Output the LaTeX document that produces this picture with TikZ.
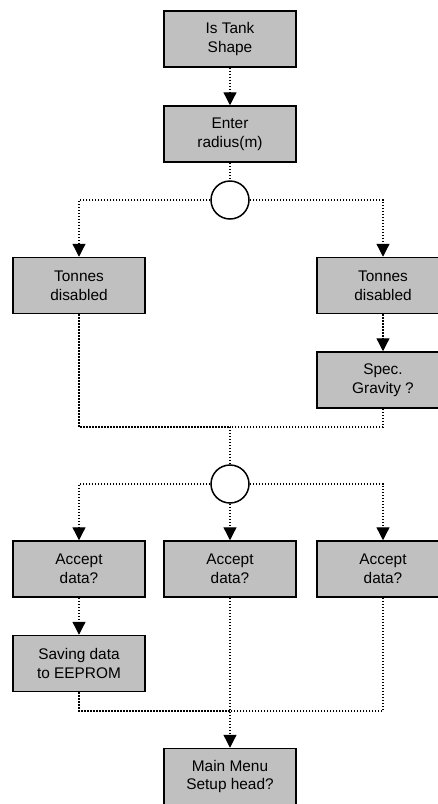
\documentclass[tikz,border=0pt]{standalone}
\usepackage{fontspec}
\setmainfont{Liberation Sans}
\usetikzlibrary{arrows.meta}
\definecolor{boxgray}{RGB}{192,192,192}
\tikzset{
  stepbox/.style={draw=black, line width=1.5pt, fill=boxgray, minimum width=132pt, minimum height=56pt, inner sep=0pt, align=center, font=\fontsize{15.4}{18.8}\selectfont},
  junction/.style={draw=black, line width=1.5pt, fill=white, circle, minimum size=38pt, inner sep=0pt},
  link/.style={line width=1.3pt, dash pattern=on 1.3pt off 1.7pt},
  flow/.style={link, -{Triangle[width=13pt,length=13pt]}}
}
\begin{document}
\begin{tikzpicture}[x=1pt,y=-1pt]
\useasboundingbox (0,0) rectangle (438,804);
\node[stepbox] (s1) at (230,39) {Is Tank\\Shape};
\node[stepbox] (s2) at (230,134) {Enter\\radius(m)};
\node[junction] (c1) at (230,200) {};
\node[stepbox] (t1) at (79,285.5) {Tonnes\\disabled};
\node[stepbox] (t2) at (383,285.5) {Tonnes\\disabled};
\node[stepbox] (sg) at (383,380) {Spec.\\Gravity ?};
\coordinate (m1) at (230,427);
\node[junction] (c2) at (230,484) {};
\node[stepbox] (a1) at (79,569) {Accept\\data?};
\node[stepbox] (a2) at (230,569) {Accept\\data?};
\node[stepbox] (a3) at (383,569) {Accept\\data?};
\node[stepbox] (sv) at (79,663.5) {Saving data\\to EEPROM};
\coordinate (m2) at (230,711);
\node[stepbox] (mm) at (230,776.5) {Main Menu\\Setup head?};

\draw[flow] (s1.south) -- (s2.north);
\draw[link] (s2.south) -- (c1.north);
\draw[flow] (c1.west) -| (t1.north);
\draw[flow] (c1.east) -| (t2.north);
\draw[flow] (t2.south) -- (sg.north);
\draw[link] (t1.south) |- (m1);
\draw[link] (sg.south) |- (m1);
\draw[link] (m1) -- (c2.north);
\draw[flow] (c2.west) -| (a1.north);
\draw[flow] (c2.east) -| (a3.north);
\draw[flow] (c2.south) -- (a2.north);
\draw[flow] (a1.south) -- (sv.north);
\draw[link] (sv.south) |- (m2);
\draw[link] (a3.south) |- (m2);
\draw[flow] (a2.south) -- (mm.north);
\end{tikzpicture}
\end{document}
